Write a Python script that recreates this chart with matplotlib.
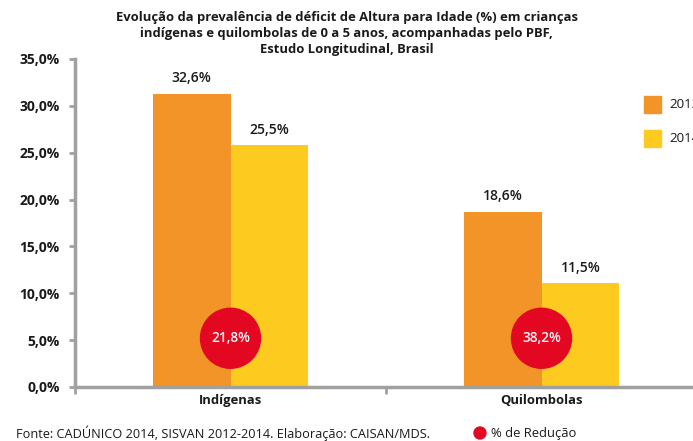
import matplotlib
matplotlib.use('Agg')
import matplotlib.pyplot as plt
from matplotlib.patches import Ellipse, Rectangle

plt.rcParams['font.family'] = ['Open Sans', 'DejaVu Sans']

categories = ['Indígenas', 'Quilombolas']
years = ['2012', '2014']
# heights as drawn in the picture, and the printed value labels
heights_2012 = [31.3, 18.7]
heights_2014 = [25.8, 11.1]
labels_2012 = ['32,6%', '18,6%']
labels_2014 = ['25,5%', '11,5%']
reduction = ['21,8%', '38,2%']
y_ticks = [0, 5, 10, 15, 20, 25, 30, 35]

orange = '#F29428'
yellow = '#FDCB1F'
red = '#E30722'
grey = '#A0A0A0'
txt_col = '#1a1a1a'

W, H = 693, 441
fig = plt.figure(figsize=(W / 100, H / 100), dpi=100)
# axes run past the right edge, like the cropped original
ax = fig.add_axes([75 / W, 1 - 387 / H, 622 / W, 328 / H])

bw = 0.25
x = list(range(len(categories)))
b1 = ax.bar([i - bw / 2 for i in x], heights_2012, bw, color=orange, zorder=2)
b2 = ax.bar([i + bw / 2 for i in x], heights_2014, bw, color=yellow, zorder=2)

for bars, labs in ((b1, labels_2012), (b2, labels_2014)):
    for b, lab in zip(bars, labs):
        ax.annotate(lab, (b.get_x() + b.get_width() / 2, b.get_height()),
                    xytext=(0, 11), textcoords='offset points', ha='center',
                    va='center', fontsize=10, fontweight='semibold', color=txt_col)

ax.set_xlim(-0.5, 1.5)
ax.set_ylim(0, 35)

# red reduction circles, sized in pixels
ppu_x = 622 / 2.0
ppu_y = 328 / 35.0
r_px = 30
for i, txt in enumerate(reduction):
    e = Ellipse((i, 5.2), 2 * r_px / ppu_x, 2 * r_px / ppu_y, color=red, zorder=3)
    ax.add_patch(e)
    ax.text(i, 5.2, txt, color='white', ha='center', va='center',
            fontsize=9.8, fontweight='semibold', zorder=4)

ax.set_yticks(y_ticks)
ax.set_yticklabels([f'{v:.1f}%'.replace('.', ',') for v in y_ticks],
                   fontsize=10, fontweight='bold', color=txt_col)
ax.set_xticks([-0.5, 0.5, 1.5])
ax.set_xticklabels([])
ax.tick_params(axis='y', length=4, width=2, color=grey, pad=7)
ax.tick_params(axis='x', length=5, width=2, color=grey)
for i, c in enumerate(categories):
    ax.text(i, -1.45, c, ha='center', va='center', fontsize=9.4,
            fontweight='bold', color=txt_col)

for s in ['top', 'right']:
    ax.spines[s].set_visible(False)
for s in ['left', 'bottom']:
    ax.spines[s].set_color(grey)
    ax.spines[s].set_linewidth(2.5)

fig.text(0.5, 1 - 11 / H, 'Evolução da prevalência de déficit de Altura para Idade (%) em crianças\n'
         'indígenas e quilombolas de 0 a 5 anos, acompanhadas pelo PBF,\nEstudo Longitudinal, Brasil',
         ha='center', va='top', fontsize=9.4, fontweight='bold', linespacing=1.3, color=txt_col)

# legend, cut off at right edge as in the original
for j, (yr, col) in enumerate(zip(years, [orange, yellow])):
    yc = 104 + j * 34
    fig.patches.append(Rectangle((644 / W, 1 - (yc + 8.5) / H), 17 / W, 17 / H,
                                 transform=fig.transFigure, color=col, figure=fig))
    fig.text(669 / W, 1 - yc / H, yr, ha='left', va='center', fontsize=9.6, color=txt_col)

fig.text(16 / W, 1 - 433 / H, 'Fonte: CADÚNICO 2014, SISVAN 2012-2014. Elaboração: CAISAN/MDS.',
         ha='left', va='center', fontsize=9.2, color=txt_col)
fig.patches.append(Ellipse((480 / W, 1 - 433 / H), 12 / W, 12 / H, transform=fig.transFigure,
                           color=red, figure=fig))
fig.text(491 / W, 1 - 433 / H, '% de Redução', ha='left', va='center', fontsize=9.4, color=txt_col)

fig.savefig('out.png', dpi=100)
